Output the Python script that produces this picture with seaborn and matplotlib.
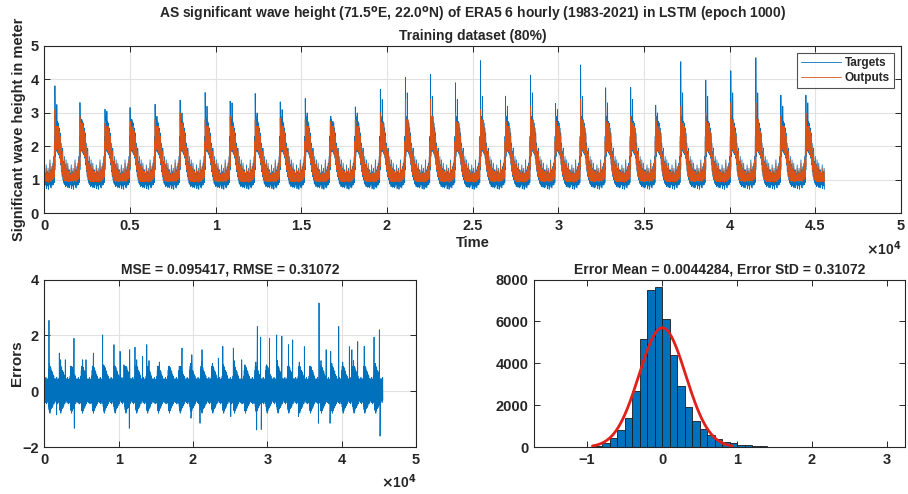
import numpy as np
import pandas as pd
import matplotlib
matplotlib.use("Agg")
import matplotlib.pyplot as plt
import seaborn as sns

# ---------------- data ----------------
YEAR_STEPS = 1461          # 6-hourly samples per year
N_STEPS = 45583            # length of training set

# positions inside a year (samples after 1 Jan) used to describe the band
phase_pos = [0, 55, 110, 165, 220, 275, 330, 385, 440, 495, 550, 590, 620, 650, 690,
             730, 770, 820, 870, 920, 970, 1020, 1070, 1120, 1170, 1220, 1270, 1320, 1370, 1420]
# typical upper / lower edge of each band at those positions
tgt_upper = [1.30, 1.20, 1.45, 1.25, 1.35, 1.20, 1.60, 1.30, 1.40, 1.50, 1.70, 2.30, 3.40, 2.90, 2.80,
             3.00, 2.75, 2.70, 2.55, 2.40, 2.10, 1.85, 1.95, 1.55, 1.70, 1.45, 1.60, 1.35, 1.50, 1.30]
tgt_lower = [0.80, 0.85, 0.74, 0.82, 0.72, 0.85, 0.78, 0.76, 0.84, 0.86, 0.92, 1.30, 1.70, 1.85, 1.90,
             1.85, 1.80, 1.75, 1.65, 1.45, 1.25, 1.10, 1.00, 0.90, 0.86, 0.80, 0.84, 0.78, 0.80, 0.76]
out_upper = [1.25, 1.15, 1.35, 1.20, 1.28, 1.18, 1.50, 1.25, 1.33, 1.42, 1.60, 2.15, 3.00, 2.75, 2.60,
             2.60, 2.65, 2.60, 2.45, 2.30, 2.00, 1.75, 1.85, 1.50, 1.60, 1.40, 1.50, 1.30, 1.42, 1.25]
out_lower = [0.95, 0.98, 0.95, 0.97, 0.93, 0.98, 0.96, 0.95, 1.00, 1.02, 1.08, 1.40, 1.80, 1.90, 1.95,
             1.90, 1.85, 1.80, 1.70, 1.50, 1.30, 1.15, 1.08, 1.00, 0.98, 0.95, 0.97, 0.95, 0.96, 0.94]
err_upper = [0.30, 0.45, 0.25, 0.38, 0.50, 0.30, 0.42, 0.28, 0.45, 0.35, 0.55, 0.75, 0.90, 0.80, 0.95,
             0.75, 0.90, 0.70, 0.85, 0.65, 0.75, 0.55, 0.70, 0.50, 0.60, 0.45, 0.55, 0.40, 0.45, 0.35]
err_lower = [-0.30, -0.22, -0.40, -0.28, -0.32, -0.45, -0.30, -0.38, -0.28, -0.42, -0.35, -0.55, -0.65,
             -0.70, -0.55, -0.78, -0.60, -0.70, -0.55, -0.62, -0.50, -0.58, -0.45, -0.52, -0.40, -0.36,
             -0.45, -0.30, -0.38, -0.32]

# yearly monsoon maxima (1983 ... 2013)
tgt_peak = [3.81, 3.31, 3.11, 3.16, 3.26, 3.38, 3.61, 3.35, 3.58, 3.33, 3.43, 2.80, 3.18, 3.70, 4.06, 4.15,
            3.90, 4.56, 3.50, 4.13, 3.28, 4.43, 3.75, 3.76, 3.23, 4.53, 3.98, 4.26, 4.65, 3.53, 3.53]
tgt_second = [3.25, 2.80, 3.05, 2.80, 2.90, 3.00, 3.20, 3.30, 3.00, 3.10, 3.00, 2.60, 3.00, 3.40, 3.60, 3.50,
              3.40, 3.50, 3.20, 3.60, 3.10, 3.50, 3.30, 3.40, 3.00, 3.60, 3.50, 3.60, 3.60, 3.20, 3.30]
out_peak = [3.10, 2.90, 2.70, 2.60, 2.80, 3.00, 2.80, 2.90, 2.80, 2.85, 2.80, 2.60, 2.80, 3.00, 3.40, 3.40,
            3.00, 3.10, 2.90, 3.20, 2.90, 3.40, 3.20, 2.90, 2.90, 3.20, 3.00, 3.30, 3.30, 2.90, 3.00]
out_hump = [2.60, 2.70, 2.50, 2.50, 2.60, 2.70, 2.60, 2.60, 2.60, 2.60, 2.60, 2.30, 2.50, 2.70, 2.80, 2.90,
            2.70, 2.80, 2.60, 2.80, 2.60, 2.80, 2.70, 2.70, 2.50, 2.70, 2.70, 2.80, 2.80, 2.60, 2.60]
err_hump = [1.00, 0.90, 0.85, 0.80, 0.90, 0.95, 0.90, 0.85, 0.90, 0.85, 0.90, 0.80, 0.85, 1.00, 1.05, 1.00,
            0.95, 1.10, 0.95, 1.05, 0.95, 1.10, 1.00, 1.05, 0.90, 1.10, 1.00, 1.05, 1.10, 0.95, 1.00]

# isolated error spikes (sample index, error in m)
err_spike_t = [628, 1659, 2018, 2200, 2825, 3991, 4036, 5160, 5605, 6600, 7848, 9372, 10190, 10717, 11435,
               11480, 12197, 12430, 13229, 13780, 14081, 15471, 18520, 19731, 19840, 20942, 21211, 23408,
               24010, 25080, 25426, 26547, 28565, 28655, 29103, 29180, 30290, 31256, 31950, 32840, 33408,
               34190, 34978, 36861, 36951, 37910, 38430, 38520, 39600, 41031, 41370, 42152, 43030, 44350,
               45067, 45157]
err_spike_v = [2.54, -0.84, 1.37, 1.13, 1.13, 1.90, -1.32, 1.13, 1.13, 1.37, 2.02, 1.67, 1.43, 0.95, -1.32,
               1.49, 1.58, 1.13, 1.25, 1.67, 1.10, 1.05, 1.55, -0.96, 1.31, -1.14, 1.49, 1.19,
               1.61, -0.90, 1.55, 1.13, -1.38, 2.32, 1.94, -1.36, 1.90, 2.02, 1.97, 1.67, 1.84,
               -0.90, 1.60, -1.14, 3.16, 1.49, -1.14, 1.43, 2.32, 1.60, 1.49, 1.78, 1.61, 1.94,
               2.20, -1.60]

# histogram of errors (bin edges -1.0 ... 1.5, width 0.1)
hist_edges = [round(-1.0 + 0.1 * i, 1) for i in range(26)]
hist_counts = [20, 60, 190, 430, 825, 1380, 2680, 5160, 7490, 7620, 6095, 4400, 2920, 1940, 1240,
               880, 587, 381, 270, 190, 111, 95, 63, 48, 30]
err_mean = 0.0044284
err_std = 0.31072
fit_peak = 5700

x_ticks_top = [0, 5000, 10000, 15000, 20000, 25000, 30000, 35000, 40000, 45000, 50000]
x_ticklabels_top = ["0", "0.5", "1", "1.5", "2", "2.5", "3", "3.5", "4", "4.5", "5"]
x_ticks_err = [0, 10000, 20000, 30000, 40000, 50000]
x_ticklabels_err = ["0", "1", "2", "3", "4", "5"]

# ---------------- build the series ----------------
def band(upper, lower, overrides_up=None):
    xs, ys = [], []
    k = 0
    while True:
        base = k * YEAR_STEPS
        if base > N_STEPS:
            break
        for j, p in enumerate(phase_pos):
            t = base + p
            if t + 27 > N_STEPS:
                break
            up = upper[j]
            if overrides_up is not None and k < len(tgt_peak):
                for idx, arr in overrides_up:
                    if j == idx:
                        up = arr[k]
            xs += [t, t + 27]
            ys += [up, lower[j]]
        k += 1
    return xs, ys

tx, ty = band(tgt_upper, tgt_lower, [(12, tgt_peak), (15, tgt_second)])
ox, oy = band(out_upper, out_lower, [(12, out_peak), (14, out_hump), (16, out_hump)])
ex, ey = band(err_upper, err_lower, [(14, err_hump)])
ex = ex + err_spike_t
ey = ey + err_spike_v
df_t = pd.DataFrame({"t": tx, "y": ty})
df_o = pd.DataFrame({"t": ox, "y": oy})
df_e = pd.DataFrame({"t": ex, "y": ey}).sort_values("t")

# ---------------- style ----------------
sns.set_style("ticks")
plt.rcParams["font.family"] = ["Liberation Sans", "DejaVu Sans"]
plt.rcParams["font.weight"] = "bold"
plt.rcParams["axes.titleweight"] = "bold"
plt.rcParams["axes.labelweight"] = "bold"
plt.rcParams["axes.edgecolor"] = "#262626"
plt.rcParams["axes.linewidth"] = 0.8
plt.rcParams["xtick.color"] = "#262626"
plt.rcParams["ytick.color"] = "#262626"

BLUE = "#0072BD"
ORANGE = "#D95319"
TICK_FS = 10.5
GRID_C = "#E2E2E2"

fig = plt.figure(figsize=(9.08, 4.94), dpi=100)
fig.patch.set_facecolor("white")

def style_axes(ax, grid=True):
    ax.tick_params(direction="in", top=True, right=True, length=4, width=0.7,
                   labelsize=TICK_FS, pad=4)
    for lab in ax.get_xticklabels() + ax.get_yticklabels():
        lab.set_fontweight("bold")
    for s in ax.spines.values():
        s.set_visible(True)
        s.set_color("#262626")
        s.set_linewidth(0.8)
    if grid:
        ax.grid(True, color=GRID_C, linewidth=0.8)
        ax.set_axisbelow(True)

# ---- top ----
ax1 = fig.add_axes([0.0488, 0.568, 0.9435, 0.339])
sns.lineplot(data=df_t, x="t", y="y", ax=ax1, color=BLUE, lw=0.6, estimator=None, sort=False,
             label="Targets")
sns.lineplot(data=df_o, x="t", y="y", ax=ax1, color=ORANGE, lw=0.6, estimator=None, sort=False,
             label="Outputs")
ax1.set_xlim(0, 50000)
ax1.set_ylim(0, 5)
ax1.set_xticks(x_ticks_top)
ax1.set_xticklabels(x_ticklabels_top)
ax1.set_yticks([0, 1, 2, 3, 4, 5])
ax1.set_xlabel("Time", fontsize=10.5, fontweight="bold", labelpad=2)
ax1.set_ylabel("Significant wave height in meter", fontsize=10.5, fontweight="bold", labelpad=3)
ax1.set_title("AS significant wave height (71.5$^{\\mathbf{o}}$E, 22.0$^{\\mathbf{o}}$N) of ERA5 6 hourly "
              "(1983-2021) in LSTM (epoch 1000)\nTraining dataset (80%)",
              fontsize=10, fontweight="bold", linespacing=1.5, pad=4)
style_axes(ax1)
leg = ax1.legend(loc="upper right", frameon=True, fancybox=False, fontsize=8.5,
                 handlelength=3.4, borderpad=0.35, labelspacing=0.25, handletextpad=0.3,
                 borderaxespad=0.6)
leg.get_frame().set_edgecolor("#262626")
leg.get_frame().set_linewidth(0.8)
for txt in leg.get_texts():
    txt.set_fontweight("bold")
ax1.text(1.0, -0.155, "$\\times$10$^{\\mathbf{4}}$", transform=ax1.transAxes, ha="right", va="top",
         fontsize=10, fontweight="bold", color="#262626")

# ---- errors ----
ax2 = fig.add_axes([0.0488, 0.0945, 0.4094, 0.3397])
sns.lineplot(data=df_e, x="t", y="y", ax=ax2, color=BLUE, lw=0.6, estimator=None, sort=False)
ax2.set_xlim(0, 50000)
ax2.set_ylim(-2, 4)
ax2.set_xticks(x_ticks_err)
ax2.set_xticklabels(x_ticklabels_err)
ax2.set_yticks([-2, 0, 2, 4])
ax2.set_xlabel("")
ax2.set_ylabel("Errors", fontsize=11, fontweight="bold", labelpad=-1)
ax2.set_title("MSE = 0.095417, RMSE = 0.31072", fontsize=10, fontweight="bold", pad=4)
style_axes(ax2)
ax2.text(1.0, -0.15, "$\\times$10$^{\\mathbf{4}}$", transform=ax2.transAxes, ha="right", va="top",
         fontsize=10, fontweight="bold", color="#262626")

# ---- histogram ----
ax3 = fig.add_axes([0.5881, 0.0945, 0.4086, 0.3397])
centers = [(hist_edges[i] + hist_edges[i + 1]) / 2 for i in range(len(hist_counts))]
sns.histplot(x=centers, weights=hist_counts, bins=hist_edges, ax=ax3, color=BLUE, alpha=1,
             edgecolor="#1a1a1a", linewidth=0.6)
xf = np.linspace(err_mean - 3 * err_std, err_mean + 3 * err_std, 200)
yf = fit_peak * np.exp(-0.5 * ((xf - err_mean) / err_std) ** 2)
sns.lineplot(x=xf, y=yf, ax=ax3, color="#E0201B", lw=2.0)
ax3.set_xlim(-1.707, 3.24)
ax3.set_ylim(0, 8000)
ax3.set_xticks([-1, 0, 1, 2, 3])
ax3.set_yticks([0, 2000, 4000, 6000, 8000])
ax3.set_ylabel("")
ax3.set_title("Error Mean = 0.0044284, Error StD = 0.31072", fontsize=10, fontweight="bold", pad=4)
style_axes(ax3, grid=False)

fig.savefig("out.png", dpi=100, facecolor="white")
